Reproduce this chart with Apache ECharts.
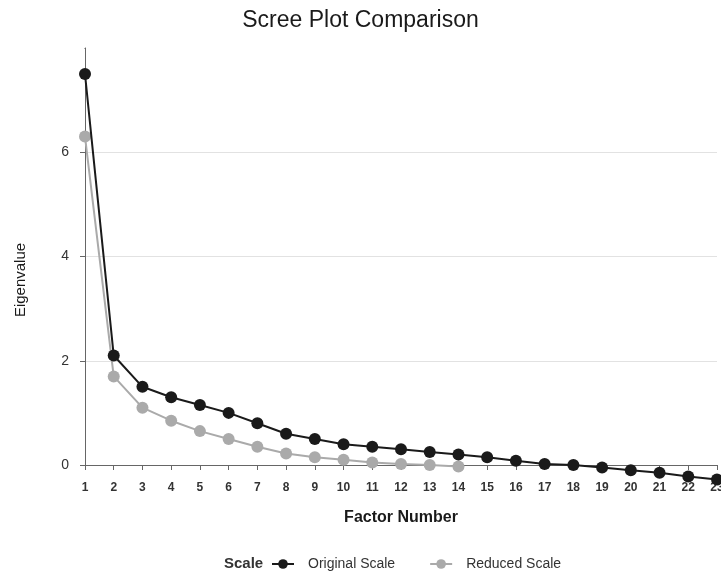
<!DOCTYPE html>
<html>
<head>
<meta charset="utf-8">
<script src="https://cdn.jsdelivr.net/npm/echarts@6/dist/echarts.min.js"></script>
<style>
  html, body { margin: 0; padding: 0; background: #fff; }
  #main { width: 721px; height: 572px; }
</style>
</head>
<body>
<div id="main"></div>
<script>
// factor numbers on the x axis
var factors = ['1', '2', '3', '4', '5', '6', '7', '8', '9', '10', '11', '12',
  '13', '14', '15', '16', '17', '18', '19', '20', '21', '22', '23'];
// eigenvalues
var originalScale = [7.5, 2.1, 1.5, 1.3, 1.15, 1.0, 0.8, 0.6, 0.5, 0.4, 0.35, 0.3,
  0.25, 0.2, 0.15, 0.08, 0.02, 0.0, -0.05, -0.1, -0.15, -0.22, -0.28];
var reducedScale = [6.3, 1.7, 1.1, 0.85, 0.65, 0.5, 0.35, 0.22, 0.15, 0.1, 0.05, 0.02,
  0.0, -0.03];

var font = 'Liberation Sans, Arial, sans-serif';
var chart = echarts.init(document.getElementById('main'));

chart.setOption({
  backgroundColor: '#fff',
  animation: false,
  title: {
    text: 'Scree Plot Comparison',
    left: 'center',
    top: 4,
    textStyle: { fontFamily: font, fontSize: 23, fontWeight: 'normal', color: '#1a1a1a' }
  },
  grid: { left: 85, right: 4, top: 48, bottom: 107, outerBoundsMode: 'none' },
  legend: {
    top: 557,
    left: 271,
    padding: 0,
    itemWidth: 22,
    itemHeight: 12,
    itemGap: 34,
    textStyle: { fontFamily: font, fontSize: 14, color: '#333', padding: [0, 0, 0, 9] },
    data: ['Original Scale', 'Reduced Scale']
  },
  graphic: [
    {
      type: 'text',
      left: 224,
      top: 556,
      style: { text: 'Scale', font: 'bold 15px ' + font, fill: '#333' }
    },
    {
      type: 'text',
      x: 21,
      y: 280,
      rotation: Math.PI / 2,
      style: {
        text: 'Eigenvalue', font: '15px ' + font, fill: '#1a1a1a',
        align: 'center', verticalAlign: 'middle'
      }
    },
    {
      // hide the tick at the top end of the y axis
      type: 'rect',
      shape: { x: 78, y: 45, width: 6.5, height: 6 },
      style: { fill: '#fff' },
      z: 100
    }
  ],
  xAxis: {
    type: 'category',
    data: factors,
    boundaryGap: false,
    name: 'Factor Number',
    nameLocation: 'middle',
    nameGap: 45,
    nameTextStyle: { fontFamily: font, fontSize: 16, fontWeight: 'bold', color: '#1a1a1a' },
    axisLine: { onZero: true, lineStyle: { color: '#666', width: 1 } },
    axisTick: { show: true, length: 5, alignWithLabel: true, lineStyle: { color: '#666' } },
    axisLabel: { margin: 17, fontFamily: font, fontSize: 12, fontWeight: 'bold', color: '#333' },
    splitLine: { show: false }
  },
  yAxis: {
    type: 'value',
    min: 0,
    max: 8,
    interval: 2,
    axisLine: { show: true, lineStyle: { color: '#666', width: 1 } },
    axisTick: { show: true, length: 5, lineStyle: { color: '#666' } },
    axisLabel: {
      margin: 16,
      fontFamily: font,
      fontSize: 14,
      color: '#333',
      formatter: function (v) { return v === 8 ? '' : v; }
    },
    splitLine: {
      show: true,
      lineStyle: { color: ['rgba(0,0,0,0)', '#e2e2e2', '#e2e2e2', '#e2e2e2', 'rgba(0,0,0,0)'], width: 1 }
    }
  },
  series: [
    {
      name: 'Original Scale',
      type: 'line',
      data: originalScale,
      clip: false,
      symbol: 'circle',
      symbolSize: 12,
      z: 3,
      itemStyle: { color: '#1a1a1a' },
      lineStyle: { color: '#1a1a1a', width: 2 }
    },
    {
      name: 'Reduced Scale',
      type: 'line',
      data: reducedScale,
      clip: false,
      symbol: 'circle',
      symbolSize: 12,
      z: 2,
      itemStyle: { color: '#aaaaaa' },
      lineStyle: { color: '#aaaaaa', width: 2 }
    }
  ]
});
</script>
</body>
</html>
